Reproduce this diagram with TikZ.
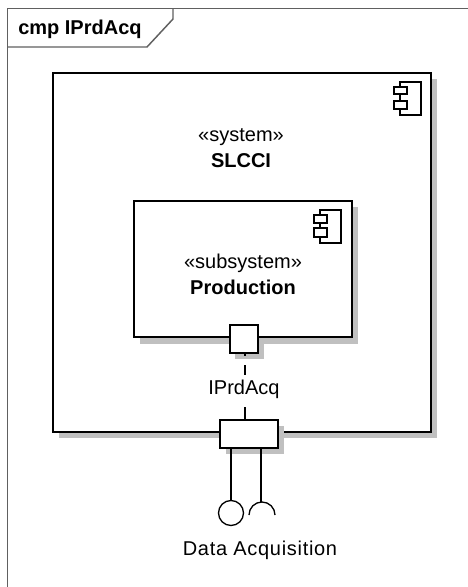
\documentclass[tikz,border=0pt]{standalone}
\usepackage{fontspec}
\setmainfont{Liberation Sans}
\usepackage{xcolor}
\definecolor{FrameGray}{HTML}{606060}
\definecolor{ShadowGray}{HTML}{C0C0C0}

\begin{document}
\begin{tikzpicture}[x=0.75pt,y=-0.75pt,
    part/.style={draw=black,fill=white,line width=1.35pt,inner sep=0pt,anchor=north west},
    icon/.style={draw=black,fill=white,line width=1.1pt},
    wire/.style={draw=black,line width=1.1pt},
    tag/.style={font=\fontsize{15}{19.5}\selectfont,align=center,inner sep=1pt}
  ]
    \useasboundingbox (0,0) rectangle (468,587);
    % frame
    \coordinate (framecorner) at (7.5,8.5);
    \draw[FrameGray,line width=1.1pt] (468,8.5) -- (framecorner) -- (7.5,587);
    \node[anchor=west,inner sep=0pt,font=\bfseries\fontsize{15}{18}\selectfont] (title) at (18,29) {cmp IPrdAcq};
    \draw[FrameGray,line width=1.1pt] (7.5,47) -- (147,47) -- (173,19) -- (173,8.5);
    % outer box
    \fill[ShadowGray] (59,79) rectangle (437,438);
    \node[part,minimum width=283.5pt,minimum height=269.25pt] (slcci) at (52,72) {};
    \node[tag,anchor=base] (slccilabel) at (241,167) {«system»\\\textbf{SLCCI}};
    \draw[icon] (400,82) rectangle (421,115);
    \draw[icon] (394,87) rectangle (407,94);
    \draw[icon] (394,101) rectangle (407,109);
    % inner box
    \fill[ShadowGray] (140,207) rectangle (358,344);
    \fill[ShadowGray] (235,331) rectangle (264,359);
    \node[part,minimum width=163.5pt,minimum height=102pt,line width=1.25pt] (production) at (133,200) {};
    \node[tag,anchor=base] (productionlabel) at (243,294) {«subsystem»\\\textbf{Production}};
    \draw[icon] (320,210) rectangle (341,243);
    \draw[icon] (314,215) rectangle (327,223);
    \draw[icon] (314,228) rectangle (327,237);
    % ports
    \node[part,minimum width=21pt,minimum height=21pt] (innerport) at (229,324) {};
    \fill[ShadowGray] (226,426) rectangle (284,454);
    \node[part,minimum width=43.5pt,minimum height=21pt] (outerport) at (219,419) {};
    % connectors
    \coordinate (ifacedrop) at (245,419);
    \draw[wire,dash pattern=on 1.5pt off 7pt on 7.5pt off 24pt on 11pt] (innerport.south -| ifacedrop) -- (ifacedrop)
      node[pos=.54,fill=white,tag,inner ysep=2pt,xshift=-.75pt] (iface) {IPrdAcq};
    \coordinate (ballstem) at (231,447);
    \coordinate (socketstem) at (261,447);
    \node[circle,draw=black,line width=1pt,minimum size=18.75pt,inner sep=0pt] (ball) at (231,513) {};
    \draw[wire] (ballstem) -- (ball.north);
    \coordinate (socket) at (261,502);
    \draw[wire] (socketstem) -- (socket);
    \draw[line width=1pt] (249,515) arc[start angle=180,end angle=0,radius=9.75pt];
    \node[tag,anchor=base] (dataacq) at (260,555) {\addfontfeature{LetterSpace=3.5}Data Acquisition};
  \end{tikzpicture}
\end{document}
